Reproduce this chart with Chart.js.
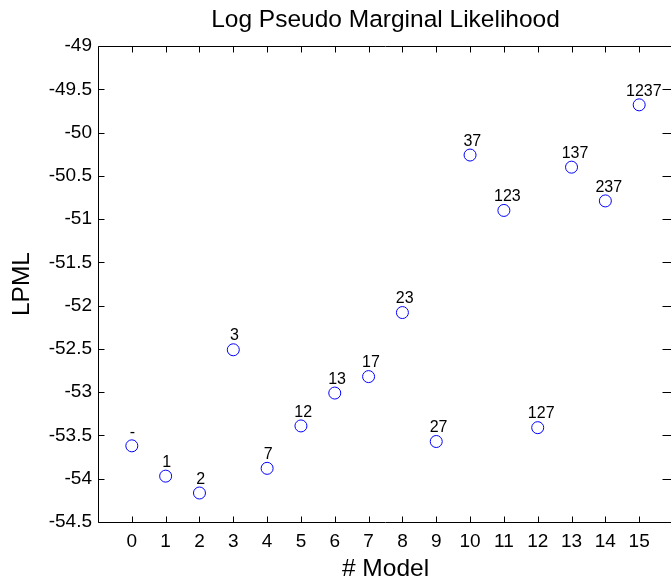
<!DOCTYPE html>
<html>
<head>
<meta charset="utf-8">
<script src="https://cdn.jsdelivr.net/npm/chart.js@4/dist/chart.umd.min.js"></script>
<style>
html,body{margin:0;padding:0;background:#fff;overflow:hidden;}
#wrap{width:671px;height:579px;overflow:hidden;}
</style>
</head>
<body>
<div id="wrap"><canvas id="c" width="680" height="579"></canvas></div>
<script>
const models = [0,1,2,3,4,5,6,7,8,9,10,11,12,13,14,15];
const lpml = [-53.62,-53.97,-54.165,-52.51,-53.88,-53.39,-53.01,-52.82,-52.08,-53.57,-50.26,-50.90,-53.41,-50.40,-50.79,-49.68];
const pointLabels = ['-','1','2','3','7','12','13','17','23','27','37','123','127','137','237','1237'];
const xTicks = [0,1,2,3,4,5,6,7,8,9,10,11,12,13,14,15];
const yTicks = [-54.5,-54,-53.5,-53,-52.5,-52,-51.5,-51,-50.5,-50,-49.5,-49];

const FONT = "Arial, 'Liberation Sans', Helvetica, sans-serif";

const innerTicks = {
  id:'innerTicks',
  afterDraw(chart){
    const ctx = chart.ctx, a = chart.chartArea;
    const xs = chart.scales.x, ys = chart.scales.y;
    ctx.save();
    ctx.strokeStyle = '#000'; ctx.lineWidth = 1;
    ctx.beginPath();
    const L = 6, LR = 10;
    const l = Math.round(a.left)+0.5, t = Math.round(a.top)+0.5, b = Math.round(a.bottom)+0.5, r = Math.round(a.right)-0.5;
    ctx.moveTo(l, t); ctx.lineTo(l, b);
    ctx.moveTo(l, t); ctx.lineTo(r, t);
    ctx.moveTo(l, b); ctx.lineTo(r, b);
    ctx.moveTo(r, t); ctx.lineTo(r, b);
    xTicks.forEach(v=>{
      const px = Math.round(xs.getPixelForValue(v))+0.5;
      ctx.moveTo(px, b); ctx.lineTo(px, b-L);
      ctx.moveTo(px, t); ctx.lineTo(px, t+L);
    });
    yTicks.forEach(v=>{
      const py = Math.round(ys.getPixelForValue(v))+0.5;
      ctx.moveTo(l, py); ctx.lineTo(l+L, py);
      ctx.moveTo(r, py); ctx.lineTo(r-LR, py);
    });
    ctx.stroke();
    ctx.restore();
  },
  afterDatasetsDraw(chart){
    const ctx = chart.ctx;
    const meta = chart.getDatasetMeta(0);
    ctx.save();
    ctx.fillStyle = '#000';
    ctx.font = "16px " + FONT;
    ctx.textAlign = 'center';
    ctx.textBaseline = 'alphabetic';
    meta.data.forEach((pt,i)=>{
      const w = ctx.measureText(pointLabels[i]).width;
      ctx.fillText(pointLabels[i], pt.x + 0.13*w, pt.y-9.3);
    });
    ctx.restore();
  }
};

new Chart(document.getElementById('c'), {
  type:'scatter',
  data:{
    datasets:[{
      data: models.map((m,i)=>({x:m,y:lpml[i]})),
      pointStyle:'circle',
      pointRadius:6,
      pointHoverRadius:6,
      borderColor:'#0000ff',
      backgroundColor:'rgba(0,0,0,0)',
      borderWidth:1,
      showLine:false
    }]
  },
  options:{
    responsive:false,
    animation:false,
    devicePixelRatio:1,
    layout:{padding:{top:0,right:1,bottom:0,left:0}},
    plugins:{
      legend:{display:false},
      tooltip:{enabled:false},
      title:{
        display:true,
        fullSize:false,
        text:'Log Pseudo Marginal Likelihood',
        color:'#000',
        font:{family:FONT,size:24.5,weight:'normal',lineHeight:1.2},
        padding:{top:5.3,bottom:11.3}
      }
    },
    scales:{
      x:{
        type:'linear',
        min:-1,max:16,
        afterBuildTicks(s){ s.ticks = xTicks.map(v=>({value:v})); },
        afterFit(s){ s.height = 57; },
        grid:{display:false,drawTicks:false},
        border:{display:false},
        ticks:{color:'#000',font:{family:FONT,size:19},padding:8,maxRotation:0,autoSkip:false},
        title:{display:true,text:'# Model',color:'#000',font:{family:FONT,size:24.5,lineHeight:0.8},padding:{top:0,bottom:0}}
      },
      y:{
        type:'linear',
        min:-54.5,max:-49,
        afterBuildTicks(s){ s.ticks = yTicks.map(v=>({value:v})); },
        afterFit(s){ s.width = 98; },
        grid:{display:false,drawTicks:false},
        border:{display:false},
        ticks:{color:'#000',font:{family:FONT,size:19},padding:6,autoSkip:false,
          callback:(v)=>String(v)},
        title:{display:true,text:'LPML',color:'#000',font:{family:FONT,size:24.5,lineHeight:0.8},padding:{top:12.2,bottom:12.2}}
      }
    }
  },
  plugins:[innerTicks]
});
</script>
</body>
</html>
